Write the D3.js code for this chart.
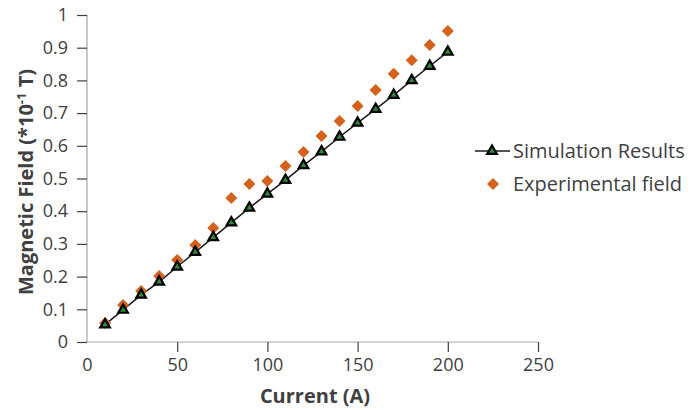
<!DOCTYPE html>
<html>
<head>
<meta charset="utf-8">
<script src="https://cdn.jsdelivr.net/npm/d3@7"></script>
<style>
  body { margin: 0; background: #fff; }
  text { font-family: "Open Sans", sans-serif; fill: #404040; }
</style>
</head>
<body>
<div id="chart"></div>
<script>
const currents = [10, 20, 30, 40, 50, 60, 70, 80, 90, 100, 110, 120, 130, 140, 150, 160, 170, 180, 190, 200];
const simulation = [0.053, 0.098, 0.144, 0.184, 0.23, 0.275, 0.32, 0.365, 0.41, 0.453,
  0.495, 0.54, 0.582, 0.627, 0.67, 0.712, 0.755, 0.80, 0.844, 0.887];
const experimental = [0.058, 0.113, 0.156, 0.202, 0.251, 0.297, 0.349, 0.44, 0.483, 0.492,
  0.538, 0.581, 0.63, 0.676, 0.722, 0.771, 0.82, 0.862, 0.908, 0.951];
const xTicks = [0, 50, 100, 150, 200, 250];
const yTicks = [0, 0.1, 0.2, 0.3, 0.4, 0.5, 0.6, 0.7, 0.8, 0.9, 1];
const seriesNames = ['Simulation Results', 'Experimental field'];

const width = 692, height = 410;
const x = d3.scaleLinear().domain([0, 250]).range([87, 538]);
const y = d3.scaleLinear().domain([0, 1]).range([342, 15]);

const svg = d3.select('#chart').append('svg')
  .attr('width', width)
  .attr('height', height);

// axes
const xAxis = svg.append('g')
  .attr('transform', `translate(0,${y(0)})`)
  .call(d3.axisBottom(x).tickValues(xTicks).tickSize(10).tickPadding(6).tickFormat(d3.format('d')));
const yAxis = svg.append('g')
  .attr('transform', `translate(${x(0)},0)`)
  .call(d3.axisLeft(y).tickValues(yTicks).tickSize(10).tickPadding(9).tickFormat(d => d === 0 || d === 1 ? d : d.toFixed(1)));

[xAxis, yAxis].forEach(a => {
  a.select('.domain').attr('stroke', '#a6a6a6').attr('stroke-width', 1.2);
  a.selectAll('.tick line').attr('stroke', '#404040').attr('stroke-width', 1.2);
  a.selectAll('.tick text').attr('font-size', 18).attr('fill', '#404040')
    .style('font-family', '"Open Sans", sans-serif');
});
xAxis.select('.tick line').remove();
yAxis.select('.domain').attr('d', `M0,${y(1)}V${y(0)}`);
xAxis.select('.domain').attr('d', `M${x(0)},0H${x(250)}`);

// axis titles
svg.append('text')
  .attr('x', 315).attr('y', 403)
  .attr('text-anchor', 'middle')
  .attr('font-size', 20).attr('font-weight', 'bold')
  .text('Current (A)');

const yTitle = svg.append('text')
  .attr('transform', 'translate(33,182) rotate(-90)')
  .attr('text-anchor', 'middle')
  .attr('font-size', 20).attr('font-weight', 'bold');
yTitle.append('tspan').text('Magnetic Field (*10');
yTitle.append('tspan').attr('dy', -7).attr('font-size', 13).text('-1');
yTitle.append('tspan').attr('dy', 7).text(' T)');

// simulation line
const pts = currents.map((c, i) => ({ c, s: simulation[i], e: experimental[i] }));
svg.append('path')
  .datum(pts)
  .attr('fill', 'none')
  .attr('stroke', '#1a1a1a')
  .attr('stroke-width', 1.5)
  .attr('d', d3.line().x(d => x(d.c)).y(d => y(d.s)));

const tri = d3.symbol().type(d3.symbolTriangle).size(40);
const dia = d3.symbol().type(d3.symbolSquare).size(72);

svg.append('g').selectAll('path')
  .data(pts)
  .join('path')
  .attr('transform', d => `translate(${x(d.c)},${y(d.e)}) rotate(45)`)
  .attr('d', dia)
  .attr('fill', '#d4611c');

svg.append('g').selectAll('path')
  .data(pts)
  .join('path')
  .attr('transform', d => `translate(${x(d.c)},${y(d.s)})`)
  .attr('d', tri)
  .attr('fill', '#2e8b3a')
  .attr('stroke', '#000')
  .attr('stroke-width', 2.2);

// legend
const lg = svg.append('g');
lg.append('line')
  .attr('x1', 475).attr('x2', 510).attr('y1', 151).attr('y2', 151)
  .attr('stroke', '#1a1a1a').attr('stroke-width', 1.5);
lg.append('path')
  .attr('transform', 'translate(492,151)')
  .attr('d', tri)
  .attr('fill', '#2e8b3a').attr('stroke', '#000').attr('stroke-width', 2.2);
lg.append('path')
  .attr('transform', 'translate(493,184) rotate(45)')
  .attr('d', dia)
  .attr('fill', '#d4611c');
lg.selectAll('text')
  .data(seriesNames)
  .join('text')
  .attr('x', 513)
  .attr('y', (d, i) => 151 + i * 33)
  .attr('dy', '0.35em')
  .attr('font-size', 20)
  .text(d => d);
</script>
</body>
</html>
